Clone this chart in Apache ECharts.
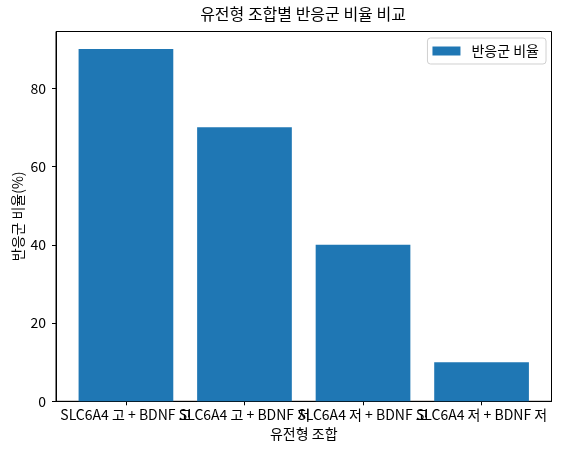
<!DOCTYPE html>
<html>
<head>
<meta charset="utf-8">
<script src="https://cdn.jsdelivr.net/npm/echarts@6/dist/echarts.min.js"></script>
<style>
  html, body { margin: 0; padding: 0; background: #fff; }
  #chart { width: 561px; height: 454px; }
</style>
</head>
<body>
<div id="chart"></div>
<script>
    "use strict";

    // 데이터
    var categories = ['SLC6A4 고 + BDNF 고', 'SLC6A4 고 + BDNF 저', 'SLC6A4 저 + BDNF 고', 'SLC6A4 저 + BDNF 저'];
    var ratios = [90, 70, 40, 10];
    var yTicks = [0, 20, 40, 60, 80];

    var FONT = 'Noto Sans CJK KR';
    var myChart = echarts.init(document.getElementById('chart'));

    // 라벨이 겹쳐도 모두 보이도록 카테고리마다 같은 위치의 grid 를 하나씩 둔다
    var gridRect = { left: 56, right: 9.5, top: 31.5, bottom: 52.7, outerBoundsMode: 'none', containLabel: false };

    var grids = categories.map(function (c, i) {
        var g = echarts.util.extend({}, gridRect);
        if (i === 0) {
            g.show = true;
            g.borderColor = '#000';
            g.borderWidth = 1;
        }
        return g;
    });

    var xAxes = categories.map(function (c, i) {
        return {
            type: 'value',
            gridIndex: i,
            min: -0.59,
            max: 3.59,
            name: i === 0 ? '유전형 조합' : '',
            nameLocation: 'middle',
            nameGap: 25,
            nameMoveOverlap: false,
            nameTextStyle: { fontFamily: FONT, fontSize: 14, color: '#000' },
            axisLine: { show: i === 0, onZero: false, lineStyle: { color: '#000', width: 1 } },
            axisTick: { show: true, length: 4, customValues: [i], lineStyle: { color: '#000' } },
            axisLabel: {
                customValues: [i],
                showMinLabel: true,
                showMaxLabel: true,
                margin: 6,
                fontFamily: FONT,
                fontSize: 14,
                color: '#000',
                formatter: function (v) { return categories[Math.round(v)]; }
            },
            splitLine: { show: false }
        };
    });

    var yAxes = categories.map(function (c, i) {
        return {
            type: 'value',
            gridIndex: i,
            show: i === 0,
            min: 0,
            max: 94.5,
            name: i === 0 ? '반응군 비율(%)' : '',
            nameLocation: 'middle',
            nameGap: 31,
            nameMoveOverlap: false,
            nameTextStyle: { fontFamily: FONT, fontSize: 14, color: '#000' },
            axisLine: { show: true, onZero: false, lineStyle: { color: '#000', width: 1 } },
            axisTick: { show: true, length: 4, customValues: yTicks, lineStyle: { color: '#000' } },
            axisLabel: {
                customValues: yTicks,
                margin: 10,
                fontFamily: FONT,
                fontSize: 14,
                color: '#000'
            },
            splitLine: { show: false }
        };
    });

    var option = {
        backgroundColor: '#fff',
        animation: false,
        textStyle: { fontFamily: FONT, color: '#000' },
        title: {
            text: '유전형 조합별 반응군 비율 비교',
            left: 303,
            textAlign: 'center',
            top: 6,
            padding: 0,
            textStyle: { fontFamily: FONT, fontSize: 16, fontWeight: 'normal', color: '#000' }
        },
        legend: {
            data: ['반응군 비율'],
            right: 15,
            top: 38,
            padding: [6, 7, 6, 5],
            itemWidth: 28,
            itemHeight: 9,
            itemGap: 0,
            icon: 'rect',
            borderColor: '#d0d0d0',
            borderWidth: 1,
            borderRadius: 3,
            textStyle: { fontFamily: FONT, fontSize: 14, color: '#000', padding: [0, 0, 0, 6] }
        },
        grid: grids,
        xAxis: xAxes,
        yAxis: yAxes,
        series: [
            {
                name: '반응군 비율',
                type: 'bar',
                xAxisIndex: 0,
                yAxisIndex: 0,
                barWidth: 94.7,
                itemStyle: { color: '#1f77b4' },
                data: categories.map(function (c, i) {
                    return [i, ratios[i]];
                })
            }
        ]
    };
    myChart.setOption(option, true);
</script>
</body>
</html>
